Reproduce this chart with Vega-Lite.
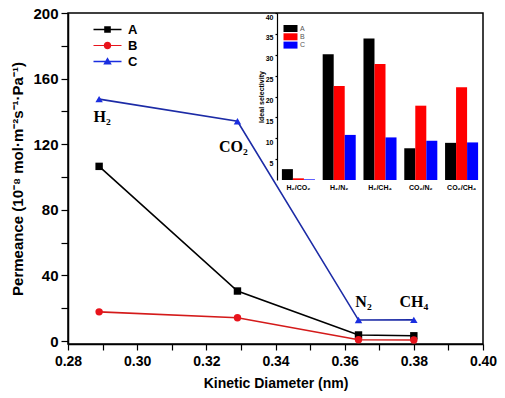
{
  "$schema": "https://vega.github.io/schema/vega-lite/v6.json",
  "width": 415,
  "height": 331,
  "autosize": {"type": "none"},
  "padding": {"left": 68, "top": 13, "right": 22, "bottom": 54},
  "background": "white",
  "config": {
    "view": {"stroke": "black", "strokeWidth": 1.5},
    "axis": {"domainColor": "black", "domainWidth": 1.5, "tickColor": "black", "tickWidth": 1.2, "labelColor": "black", "titleColor": "black", "grid": false, "labelFont": "Liberation Sans", "titleFont": "Liberation Sans", "labelFontWeight": "bold", "titleFontWeight": "bold"},
    "legend": {"labelFont": "Liberation Sans", "padding": 0}
  },
  "datasets": {
    "perm": [
      {"series": "A", "gas": "H₂", "d": 0.289, "perm": 106.5},
      {"series": "A", "gas": "CO₂", "d": 0.329, "perm": 30.5},
      {"series": "A", "gas": "N₂", "d": 0.364, "perm": 3.7},
      {"series": "A", "gas": "CH₄", "d": 0.38, "perm": 3.2},
      {"series": "B", "gas": "H₂", "d": 0.289, "perm": 17.8},
      {"series": "B", "gas": "CO₂", "d": 0.329, "perm": 14.2},
      {"series": "B", "gas": "N₂", "d": 0.364, "perm": 0.8},
      {"series": "B", "gas": "CH₄", "d": 0.38, "perm": 0.6},
      {"series": "C", "gas": "H₂", "d": 0.289, "perm": 147.5},
      {"series": "C", "gas": "CO₂", "d": 0.329, "perm": 134},
      {"series": "C", "gas": "N₂", "d": 0.364, "perm": 12.8},
      {"series": "C", "gas": "CH₄", "d": 0.38, "perm": 12.9}
    ],
    "sel": [
      {"pair": "H₂/CO₂", "series": "A", "sel": 2.6},
      {"pair": "H₂/CO₂", "series": "B", "sel": 0.4},
      {"pair": "H₂/CO₂", "series": "C", "sel": 0.15},
      {"pair": "H₂/N₂", "series": "A", "sel": 30.1},
      {"pair": "H₂/N₂", "series": "B", "sel": 22.5},
      {"pair": "H₂/N₂", "series": "C", "sel": 10.8},
      {"pair": "H₂/CH₄", "series": "A", "sel": 33.9},
      {"pair": "H₂/CH₄", "series": "B", "sel": 27.8},
      {"pair": "H₂/CH₄", "series": "C", "sel": 10.2},
      {"pair": "CO₂/N₂", "series": "A", "sel": 7.6},
      {"pair": "CO₂/N₂", "series": "B", "sel": 17.8},
      {"pair": "CO₂/N₂", "series": "C", "sel": 9.4},
      {"pair": "CO₂/CH₄", "series": "A", "sel": 8.9},
      {"pair": "CO₂/CH₄", "series": "B", "sel": 22.2},
      {"pair": "CO₂/CH₄", "series": "C", "sel": 9.0}
    ]
  },
  "layer": [
    {
      "data": {"name": "perm"},
      "encoding": {
        "x": {"field": "d", "type": "quantitative", "scale": {"domain": [0.28, 0.40], "nice": false, "zero": false},
          "axis": {"orient": "bottom", "values": [0.28, 0.29, 0.30, 0.31, 0.32, 0.33, 0.34, 0.35, 0.36, 0.37, 0.38, 0.39, 0.40],
            "labelExpr": "round(datum.value*100) % 2 === 0 ? format(datum.value, '.2f') : ''",
            "title": "Kinetic Diameter (nm)", "titleFontSize": 14, "labelFontSize": 14, "tickSize": 6, "labelPadding": 4, "titlePadding": 8, "labelFlush": false, "labelOverlap": false,
            "encode": {"ticks": {"update": {"y2": {"signal": "round(datum.value*100) % 2 === 0 ? 6 : 3"}}}}}},
        "y": {"field": "perm", "type": "quantitative", "scale": {"domain": [-1.8, 200], "nice": false, "zero": false},
          "axis": {"orient": "left", "values": [0, 20, 40, 60, 80, 100, 120, 140, 160, 180, 200],
            "labelExpr": "datum.value % 40 === 0 ? datum.label : ''",
            "title": "Permeance (10⁻⁸ mol·m⁻²s⁻¹·Pa⁻¹)", "titleFontSize": 15, "labelFontSize": 15, "tickSize": 7, "labelPadding": 3, "titlePadding": 7, "labelOverlap": false,
            "encode": {"ticks": {"update": {"x2": {"signal": "datum.value % 40 === 0 ? -7 : -4"}}}}}}
      },
      "layer": [
        {
          "mark": {"type": "line", "strokeWidth": 1.6},
          "encoding": {
            "color": {"field": "series", "type": "nominal", "scale": {"domain": ["A", "B", "C"], "range": ["#000000", "#d41a1a", "#1c2ba6"]}, "legend": null}
          }
        },
        {
          "mark": {"type": "point", "filled": true, "opacity": 1, "size": 55},
          "encoding": {
            "color": {"field": "series", "type": "nominal", "scale": {"domain": ["A", "B", "C"], "range": ["#000000", "#e8141c", "#1a2ee0"]}, "legend": null},
            "shape": {"field": "series", "type": "nominal", "scale": {"domain": ["A", "B", "C"], "range": ["square", "circle", "triangle-up"]}, "legend": null}
          }
        },
        {
          "transform": [{"filter": "datum.series === 'C' && datum.gas === 'H₂'"}],
          "mark": {"type": "text", "font": "Liberation Serif", "fontWeight": "bold", "fontSize": 16, "dx": 3, "dy": 18},
          "encoding": {"text": {"field": "gas"}}
        },
        {
          "transform": [{"filter": "datum.series === 'C' && datum.gas === 'CO₂'"}],
          "mark": {"type": "text", "font": "Liberation Serif", "fontWeight": "bold", "fontSize": 16, "dx": -4, "dy": 26},
          "encoding": {"text": {"field": "gas"}}
        },
        {
          "transform": [{"filter": "datum.series === 'C' && datum.gas === 'N₂'"}],
          "mark": {"type": "text", "font": "Liberation Serif", "fontWeight": "bold", "fontSize": 16, "dx": 5, "dy": -18},
          "encoding": {"text": {"field": "gas"}}
        },
        {
          "transform": [{"filter": "datum.series === 'C' && datum.gas === 'CH₄'"}],
          "mark": {"type": "text", "font": "Liberation Serif", "fontWeight": "bold", "fontSize": 16, "dx": 0, "dy": -18},
          "encoding": {"text": {"field": "gas"}}
        },
        {
          "mark": {"type": "point", "filled": true, "opacity": 0},
          "encoding": {
            "color": {"field": "series", "type": "nominal", "scale": {"domain": ["A", "B", "C"], "range": ["#000000", "#e8141c", "#1a2ee0"]},
              "legend": {"orient": "none", "legendX": 33, "legendY": 10, "title": null, "symbolSize": 100, "labelFontSize": 13, "labelFontWeight": "bold", "labelColor": "black", "labelOffset": 14, "rowPadding": 2, "symbolStrokeWidth": 0,
                "encode": {"symbols": {"update": {"opacity": {"value": 1}}}}}},
            "shape": {"field": "series", "type": "nominal", "scale": {"domain": ["A", "B", "C"], "range": [
              "M-2.8,-0.15H2.8V0.15H-2.8Z M-0.66,-0.66H0.66V0.66H-0.66Z",
              "M-2.8,-0.08H2.8V0.08H-2.8Z M0.75,0A0.75,0.75 0 1,1 -0.75,0A0.75,0.75 0 1,1 0.75,0Z",
              "M-2.8,-0.15H2.8V0.15H-2.8Z M0,-0.85L0.85,0.6H-0.85Z"]},
              "legend": {"orient": "none", "legendX": 33, "legendY": 10, "title": null, "symbolSize": 100, "labelFontSize": 13, "labelFontWeight": "bold", "labelColor": "black", "labelOffset": 14, "rowPadding": 2, "symbolStrokeWidth": 0,
                "encode": {"symbols": {"update": {"opacity": {"value": 1}}}}}}
          }
        }
      ],
      "resolve": {"scale": {"color": "independent", "shape": "independent"}}
    },
    {
      "data": {"name": "sel"},
      "mark": {"type": "bar"},
      "encoding": {
        "x": {"field": "pair", "type": "nominal", "sort": ["H₂/CO₂", "H₂/N₂", "H₂/CH₄", "CO₂/N₂", "CO₂/CH₄"],
          "scale": {"range": [209, 415], "paddingInner": 0.19, "paddingOuter": 0.12},
          "axis": {"orient": "bottom", "offset": -164, "title": null, "domain": false, "ticks": false, "labelAngle": 0, "labelFontSize": 7, "labelPadding": 3}},
        "xOffset": {"field": "series", "type": "nominal", "sort": ["A", "B", "C"], "scale": {"paddingInner": 0}},
        "y": {"field": "sel", "type": "quantitative", "scale": {"domain": [0, 40], "range": [167, 0], "nice": false},
          "axis": {"orient": "left", "offset": -209, "values": [5, 10, 15, 20, 25, 30, 35, 40], "title": "Ideal selectivity", "titleFontSize": 7, "labelFontSize": 7, "tickSize": 2, "labelPadding": 2, "titlePadding": 1, "labelOffset": 4, "domainWidth": 1.2}},
        "color": {"field": "series", "type": "nominal", "scale": {"domain": ["A", "B", "C"], "range": ["#000000", "#ff0000", "#0000ff"]},
          "legend": {"orient": "none", "legendX": 219, "legendY": 12, "title": null, "symbolType": "M-2,-1H2V1H-2Z", "symbolSize": 49, "labelFontSize": 7, "labelColor": "#555555", "labelOffset": 6, "rowPadding": 0.3, "symbolStrokeWidth": 0}}
      }
    }
  ],
  "resolve": {"scale": {"x": "independent", "y": "independent", "color": "independent"}, "axis": {"x": "independent", "y": "independent"}}
}
